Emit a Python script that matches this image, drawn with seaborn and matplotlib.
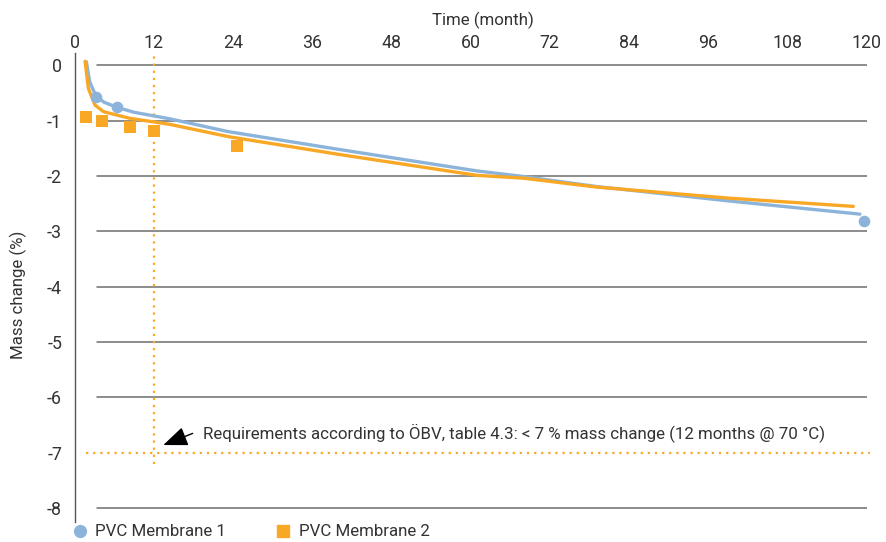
import pandas as pd
import matplotlib
matplotlib.use('Agg')
import matplotlib.pyplot as plt
import seaborn as sns
from matplotlib.lines import Line2D

sns.set_style('white')
plt.rcParams['font.family'] = ['Roboto', 'DejaVu Sans']
plt.rcParams['axes.unicode_minus'] = False

BLUE = '#8cb4da'
ORANGE = '#f9a825'
TXT = '#333333'
FS = 12.2

# measured values
m1_month = [3.3, 6.4, 119.6]
m1_mass = [-0.58, -0.76, -2.82]
m2_month = [1.7, 4.2, 8.4, 12.0, 24.6]
m2_mass = [-0.93, -1.01, -1.11, -1.19, -1.46]

# trend lines
trend1_month = [1.8, 2.3, 3.3, 4.5, 6.4, 9.0, 14.5, 23.3, 40.0, 61.0, 68.0, 79.0, 99.0, 119.0]
trend1_mass = [0.06, -0.30, -0.57, -0.67, -0.76, -0.85, -0.97, -1.20, -1.52, -1.91, -2.01, -2.19, -2.45, -2.69]
trend2_month = [1.6, 2.1, 3.1, 4.4, 8.4, 14.5, 23.3, 40.0, 61.0, 68.0, 79.0, 99.0, 118.0]
trend2_mass = [0.07, -0.42, -0.72, -0.84, -0.96, -1.07, -1.29, -1.61, -1.99, -2.04, -2.20, -2.40, -2.55]

names = ['PVC Membrane 1', 'PVC Membrane 2']
x_ticks = [0, 12, 24, 36, 48, 60, 72, 84, 96, 108, 120]
y_ticks = [0, -1, -2, -3, -4, -5, -6, -7, -8]

req_month = 12
req_limit = -7
req_text = 'Requirements according to ÖBV, table 4.3: < 7 % mass change (12 months @ 70 °C)'

pts = pd.concat([
    pd.DataFrame({'month': m1_month, 'mass': m1_mass, 'series': names[0]}),
    pd.DataFrame({'month': m2_month, 'mass': m2_mass, 'series': names[1]}),
])
trend = pd.concat([
    pd.DataFrame({'month': trend1_month, 'mass': trend1_mass, 'series': names[0]}),
    pd.DataFrame({'month': trend2_month, 'mass': trend2_mass, 'series': names[1]}),
])
pal = {names[0]: BLUE, names[1]: ORANGE}

fig = plt.figure(figsize=(8.86, 5.42), dpi=100)
ax = fig.add_axes([0.0841, 0.0369, 0.8939, 0.8653])
ax.set_xlim(0, 120)
ax.set_ylim(-8.25, 0.22)

# grid, except where the requirement line sits
for y in y_ticks:
    if y != req_limit:
        ax.axhline(y, xmin=0.028, xmax=1, color='#6e6e6e', lw=1.1, zorder=0.5)

sns.lineplot(data=trend, x='month', y='mass', hue='series', palette=pal,
             lw=2.4, legend=False, sort=False, estimator=None, ax=ax, zorder=2)
sns.scatterplot(data=pts[pts.series == names[0]], x='month', y='mass', color=BLUE,
                marker='o', s=70, linewidth=0, ax=ax, zorder=3, clip_on=False)
sns.scatterplot(data=pts[pts.series == names[1]], x='month', y='mass', color=ORANGE,
                marker='s', s=80, linewidth=0, ax=ax, zorder=3, clip_on=False)

# requirement lines
ylo, yhi = ax.get_ylim()
ax.axvline(req_month, ymin=(-7.21 - ylo) / (yhi - ylo), ymax=1, color=ORANGE,
           lw=1.6, linestyle=(0, (1, 2.2)), zorder=1)
ax.plot([1.7, 120.5], [req_limit, req_limit], color=ORANGE, lw=1.6,
        linestyle=(0, (1, 2.2)), zorder=1, clip_on=False)
ax.annotate('', xy=(13.45, -6.86), xytext=(17.9, -6.65),
            arrowprops=dict(arrowstyle='-|>,head_length=0.75,head_width=0.3',
                            color='black', lw=1, mutation_scale=20,
                            shrinkA=0, shrinkB=0))
ax.text(19.5, -6.64, req_text, fontsize=FS, color=TXT, va='center', ha='left')

ax.xaxis.tick_top()
ax.xaxis.set_label_position('top')
ax.set_xticks(x_ticks)
ax.set_yticks(y_ticks)
ax.set_yticklabels([str(v) for v in y_ticks])
ax.tick_params(axis='both', length=0, labelsize=FS + 0.6, labelcolor=TXT)
ax.tick_params(axis='x', pad=1)
ax.tick_params(axis='y', pad=9)
ax.set_xlabel('Time (month)', fontsize=FS, color=TXT)
ax.set_ylabel('Mass change (%)', fontsize=FS, color=TXT)
ax.xaxis.set_label_coords(0.516, 1.070)
ax.xaxis.label.set_verticalalignment('center')
ax.yaxis.set_label_coords(-0.0713, 0.484)
ax.yaxis.label.set_verticalalignment('center')

for s in ['top', 'right', 'bottom']:
    ax.spines[s].set_visible(False)
ax.spines['left'].set_color('#555555')
ax.spines['left'].set_linewidth(1.0)

handles = [Line2D([], [], marker='o', color=BLUE, linestyle='none', markersize=8.5),
           Line2D([], [], marker='s', color=ORANGE, linestyle='none', markersize=9)]
ax.legend(handles, names, loc='center left', bbox_to_anchor=(-0.002, -0.0213), ncol=2,
          frameon=False, fontsize=FS, handlelength=0.8, handletextpad=0.5,
          columnspacing=3.0, borderpad=0, borderaxespad=0, labelcolor=TXT)

fig.savefig('out.png', dpi=100)
